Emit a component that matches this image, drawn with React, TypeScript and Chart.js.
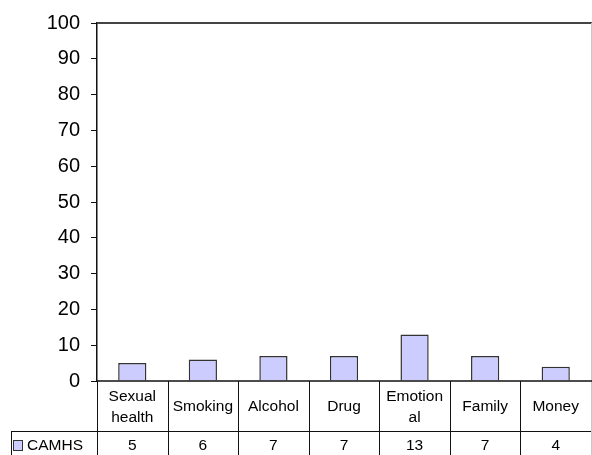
import React, { useEffect, useRef } from "react";
import { Chart, registerables } from "chart.js";

Chart.register(...registerables);

const categoryLines: string[][] = [
  ["Sexual", "health"],
  ["Smoking"],
  ["Alcohol"],
  ["Drug"],
  ["Emotion", "al"],
  ["Family"],
  ["Money"],
];
const seriesName = "CAMHS";
const camhsValues = [5, 6, 7, 7, 13, 7, 4];
const yMin = 0;
const yMax = 100;
const yStep = 10;

const FONT = "'Liberation Sans', Arial, Helvetica, sans-serif";
const BAR_FILL = "#ccccff";
const BAR_BORDER = "#333333";

const tablePlugin = {
  id: "dataTable",
  afterDraw(chart: any) {
    const { ctx, chartArea: a, scales } = chart;
    const x = scales.x;
    const n = categoryLines.length;
    const step = x.getPixelForValue(1) - x.getPixelForValue(0);
    const half = step / 2;
    const row1Top = a.bottom;
    const row1Bottom = a.bottom + 50;
    const row2Bottom = chart.height + 10;
    const legendLeft = 11;

    ctx.save();
    // plot area top border
    ctx.strokeStyle = "#444";
    ctx.lineWidth = 2;
    ctx.beginPath();
    ctx.moveTo(a.left, a.top);
    ctx.lineTo(chart.width, a.top);
    ctx.stroke();
    // right light border
    ctx.strokeStyle = "#c8c8c8";
    ctx.lineWidth = 1;
    ctx.beginPath();
    ctx.moveTo(a.right + 0.5, a.top);
    ctx.lineTo(a.right + 0.5, chart.height);
    ctx.stroke();

    // x axis line (category axis)
    ctx.strokeStyle = "#111";
    ctx.lineWidth = 1.5;
    ctx.beginPath();
    ctx.moveTo(a.left, row1Top);
    ctx.lineTo(chart.width, row1Top);
    ctx.stroke();

    // table lines
    ctx.strokeStyle = "#111";
    ctx.lineWidth = 1;
    ctx.beginPath();
    ctx.moveTo(legendLeft, row1Bottom + 0.5);
    ctx.lineTo(a.right, row1Bottom + 0.5);
    ctx.moveTo(legendLeft + 0.5, row1Bottom);
    ctx.lineTo(legendLeft + 0.5, row2Bottom);
    for (let i = 0; i < n; i++) {
      const bx = Math.round(x.getPixelForValue(i) - half) + 0.5;
      ctx.moveTo(bx, row1Top);
      ctx.lineTo(bx, row2Bottom);
    }
    ctx.stroke();

    // texts
    ctx.fillStyle = "#000";
    ctx.font = `15.5px ${FONT}`;
    ctx.textAlign = "center";
    ctx.textBaseline = "middle";
    const row1Mid = (row1Top + row1Bottom) / 2;
    const lineH = 21.5;
    for (let i = 0; i < n; i++) {
      const cx = x.getPixelForValue(i);
      const lines = categoryLines[i];
      lines.forEach((ln, j) => {
        const y = row1Mid + (j - (lines.length - 1) / 2) * lineH + 1;
        ctx.fillText(ln, cx, y);
      });
      ctx.fillText(String(camhsValues[i]), cx, row1Bottom + 15);
    }

    // legend key
    const ky = row1Bottom + 15;
    ctx.fillStyle = BAR_FILL;
    ctx.fillRect(13.5, ky - 5, 9, 9);
    ctx.strokeStyle = "#333";
    ctx.lineWidth = 1;
    ctx.strokeRect(13.5, ky - 5.5, 9, 10);
    ctx.fillStyle = "#000";
    ctx.textAlign = "left";
    ctx.fillText(seriesName, 27, ky);
    ctx.restore();
  },
};

export default function App() {
  const ref = useRef<HTMLCanvasElement>(null);
  useEffect(() => {
    document.body.style.margin = "0";
    const chart = new Chart(ref.current as HTMLCanvasElement, {
      type: "bar",
      data: {
        labels: categoryLines.map((l) => l.join(" ")),
        datasets: [
          {
            label: seriesName,
            data: camhsValues,
            backgroundColor: BAR_FILL,
            borderColor: BAR_BORDER,
            borderWidth: 1.5,
            categoryPercentage: 1,
            barPercentage: 0.4,
          },
        ],
      },
      options: {
        responsive: false,
        animation: false,
        layout: { padding: { top: 21, bottom: 74, left: 0, right: 1 } },
        plugins: {
          legend: { display: false },
          tooltip: { enabled: false },
        },
        scales: {
          x: {
            grid: { display: false },
            border: { display: false },
            ticks: { display: false },
            afterFit: (s: any) => {
              s.height = 0;
            },
          },
          y: {
            min: yMin,
            max: yMax,
            ticks: {
              stepSize: yStep,
              color: "#000",
              padding: 11,
              font: { family: FONT, size: 20 },
            },
            grid: {
              drawOnChartArea: false,
              drawTicks: true,
              tickLength: 6,
              color: "#111",
              lineWidth: 1,
            },
            border: { display: true, color: "#111", width: 1.5 },
            afterFit: (s: any) => {
              s.width = 97;
            },
          },
        },
      },
      plugins: [tablePlugin],
    });
    return () => chart.destroy();
  }, []);
  return <canvas ref={ref} width={592} height={455} style={{ display: "block" }} />;
}
